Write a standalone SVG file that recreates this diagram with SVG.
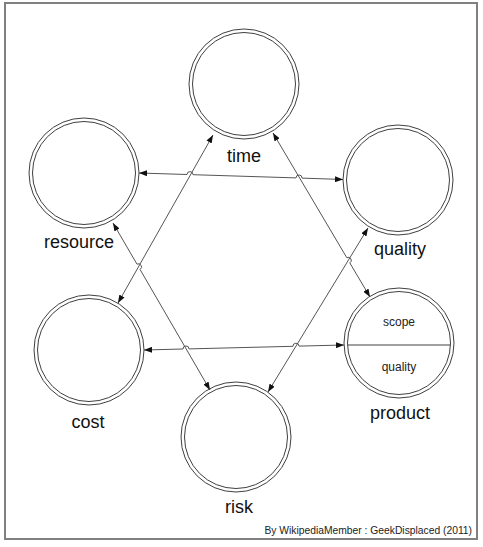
<svg xmlns="http://www.w3.org/2000/svg" width="483" height="547" viewBox="0 0 483 547">
<style>
.frame{fill:#fff;stroke:#808080;stroke-width:2}
.ring{fill:none;stroke:#404040;stroke-width:1}
.lbl{font-family:"Liberation Sans",Arial,sans-serif;font-size:18px;fill:#111;text-anchor:middle}
.sm{font-family:"Liberation Sans",Arial,sans-serif;font-size:12px;fill:#222;text-anchor:middle}
.foot{font-family:"Liberation Sans",Arial,sans-serif;font-size:10.3px;fill:#222;text-anchor:end}
.con{fill:none;stroke:#555;stroke-width:1;marker-start:url(#ah);marker-end:url(#ah)}
</style>
<defs>
<marker id="ah" viewBox="0 0 8 6" refX="8" refY="3" markerWidth="8" markerHeight="6" markerUnits="userSpaceOnUse" orient="auto-start-reverse">
<path d="M0,0 L8,3 L0,6 z" fill="#111"/>
</marker>
</defs>
<rect class="frame" x="5" y="3" width="472" height="536"/>
<g id="connectors">
<path class="con" d="M139,173 L187,174.5 A3,3 0 0 1 193,174.7 L296,177.9 A3,3 0 0 1 302,178.1 L343,179.5"/>
<path class="con" d="M144,350 L183,349 A3,3 0 0 1 189,348.9 L293,346.3 A3,3 0 0 1 299,346.1 L344,345"/>
<path class="con" d="M213,135 L118,303"/>
<path class="con" d="M273,133 L346.8,257.7 A3,3 0 0 1 349.8,262.9 L370,297"/>
<path class="con" d="M113,223 L137,264.2 A3,3 0 0 1 140,269.4 L210,390"/>
<path class="con" d="M368,228 L268,392"/>
</g>
<g id="time"><circle class="ring" cx="244" cy="84" r="55"/><circle class="ring" cx="244" cy="84" r="51.5"/><text class="lbl" x="244" y="162">time</text></g>
<g id="resource"><circle class="ring" cx="84" cy="173" r="55"/><circle class="ring" cx="84" cy="173" r="51.5"/><text class="lbl" x="79" y="248">resource</text></g>
<g id="quality"><circle class="ring" cx="398" cy="180" r="55"/><circle class="ring" cx="398" cy="180" r="51.5"/><text class="lbl" x="400" y="255">quality</text></g>
<g id="cost"><circle class="ring" cx="89" cy="350" r="55"/><circle class="ring" cx="89" cy="350" r="51.5"/><text class="lbl" x="88" y="428">cost</text></g>
<g id="product"><circle class="ring" cx="399" cy="343" r="55"/><circle class="ring" cx="399" cy="343" r="51.5"/><line x1="347.5" y1="345" x2="450.5" y2="345" stroke="#404040" stroke-width="1"/><text class="sm" x="399" y="326">scope</text><text class="sm" x="399" y="371">quality</text><text class="lbl" x="400" y="419">product</text></g>
<g id="risk"><circle class="ring" cx="236" cy="437" r="55"/><circle class="ring" cx="236" cy="437" r="51.5"/><text class="lbl" x="239" y="513">risk</text></g>
<text class="foot" x="472" y="534">By WikipediaMember : GeekDisplaced (2011)</text>
</svg>
